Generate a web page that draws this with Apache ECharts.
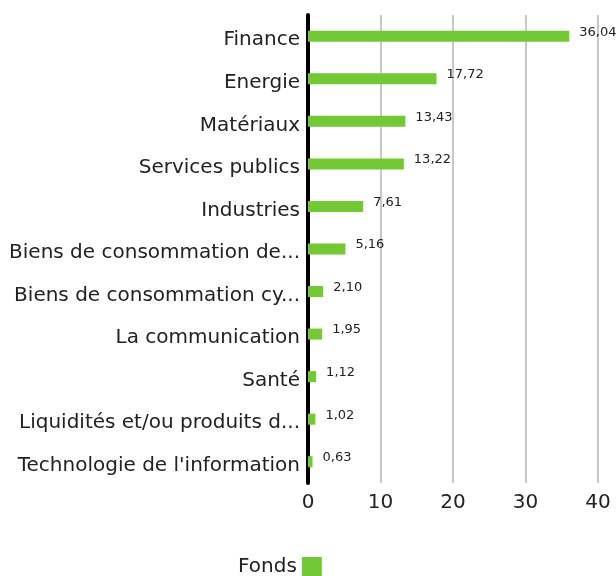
<!DOCTYPE html>
<html lang="fr">
<head>
<meta charset="UTF-8">
<title>Fonds</title>
<script src="https://cdn.jsdelivr.net/npm/echarts@6/dist/echarts.min.js"></script>
<style>
  html, body { margin: 0; padding: 0; background: #fff; }
  #chart { width: 616px; height: 576px; }
</style>
</head>
<body>
<div id="chart"></div>
<script>
// secteurs (du haut vers le bas)
var sectors = ['Finance', 'Energie', 'Matériaux', 'Services publics', 'Industries',
  'Biens de consommation de...', 'Biens de consommation cy...', 'La communication',
  'Santé', 'Liquidités et/ou produits d...', "Technologie de l'information"];
var fondsValues = [36.04, 17.72, 13.43, 13.22, 7.61, 5.16, 2.10, 1.95, 1.12, 1.02, 0.63];
var xTicks = [0, 10, 20, 30, 40];

var chart = echarts.init(document.getElementById('chart'));

chart.setOption({
  animation: false,
  textStyle: { fontFamily: '"DejaVu Sans", sans-serif' },
  grid: { left: 308, right: 18, top: 15, bottom: 93, containLabel: false },
  legend: {
    data: ['Fonds'],
    bottom: -6,
    left: 233,
    align: 'right',
    itemWidth: 20,
    itemHeight: 20,
    itemGap: 7,
    icon: 'rect',
    textStyle: { fontSize: 20, color: '#222', padding: [4, 0, 0, 0] }
  },
  xAxis: {
    type: 'value',
    min: xTicks[0],
    max: xTicks[xTicks.length - 1],
    interval: 10,
    axisLine: { show: false },
    axisTick: { show: false },
    axisLabel: { fontSize: 20, color: '#222', margin: 10 },
    splitLine: { lineStyle: { color: '#c8c8c8', width: 2 } }
  },
  yAxis: {
    type: 'category',
    data: sectors,
    inverse: true,
    axisLine: { show: true, lineStyle: { color: '#000', width: 4 } },
    axisTick: { show: false },
    axisLabel: {
      margin: 8,
      formatter: function (v) { return '{c|' + v + '}'; },
      rich: { c: { fontSize: 20, color: '#222', padding: [8, 0, 0, 0] } }
    }
  },
  series: [{
    name: 'Fonds',
    type: 'bar',
    data: fondsValues,
    barWidth: 11,
    itemStyle: { color: '#72c835' },
    label: {
      show: true,
      position: 'right',
      distance: 10,
      fontSize: 13,
      color: '#222',
      offset: [0, -4],
      formatter: function (p) { return p.value.toFixed(2).replace('.', ','); }
    }
  }]
});
</script>
</body>
</html>
